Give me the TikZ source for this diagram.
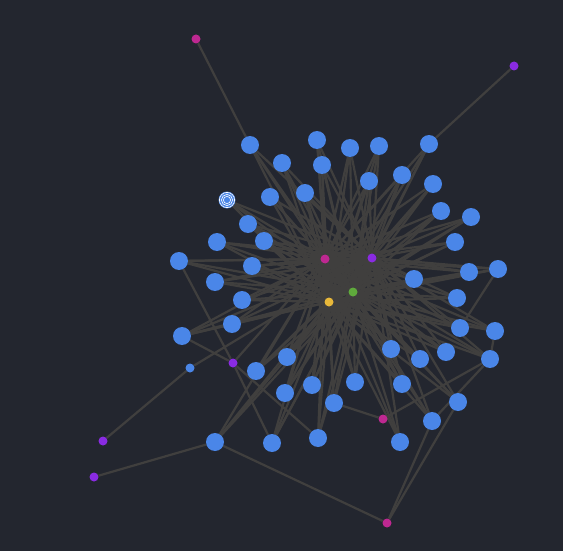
\documentclass[tikz,border=0pt]{standalone}
\definecolor{bg}{RGB}{35,38,47}
\definecolor{nblue}{RGB}{74,134,232}
\definecolor{nmag}{RGB}{190,40,145}
\definecolor{npur}{RGB}{138,43,226}
\definecolor{ngreen}{RGB}{95,170,60}
\definecolor{nyel}{RGB}{232,184,58}
\definecolor{edge}{RGB}{64,63,62}
\pgfdeclarelayer{bgfill}
\pgfdeclarelayer{edges}
\pgfsetlayers{bgfill,edges,main}
\tikzset{
  bnode/.style={circle,fill=nblue,inner sep=0pt,minimum size=18pt},
  snode/.style={circle,fill=#1,inner sep=0pt,minimum size=9pt},
  lnk/.style={draw=edge,line width=2.2pt},
}
\begin{document}
\begin{tikzpicture}[x=1pt,y=-1pt]
\begin{pgfonlayer}{bgfill}
\fill[bg] (0,0) rectangle (563,551);
\end{pgfonlayer}
\useasboundingbox (0,0) rectangle (563,551);
% centre nodes
\node[snode=nmag] (cm) at (325,259) {};
\node[snode=npur] (cp) at (372,258) {};
\node[snode=ngreen] (cg) at (353,292) {};
\node[snode=nyel] (cy) at (329,302) {};
% blue nodes
\foreach \n/\x/\y in {1/250/145,2/317/140,3/350/148,4/379/146,5/429/144,6/282/163,7/322/165,8/369/181,9/402/175,10/433/184,11/270/197,12/305/193,13/441/211,14/471/217,15/248/224,16/264/241,17/217/242,18/455/242,19/179/261,20/252/266,21/215/282,22/414/279,23/469/272,24/498/269,25/242/300,26/457/298,27/232/324,28/182/336,29/460/328,30/495/331,31/391/349,32/420/359,33/446/352,34/490/359,35/287/357,36/256/371,37/312/385,38/355/382,39/402/384,40/285/393,41/334/403,42/458/402,43/432/421,44/215/442,45/272/443,46/318/438,47/400/442}
  \node[bnode] (b\n) at (\x,\y) {};
% concentric node
\node[circle,fill=nblue,inner sep=0pt,minimum size=17pt] (ring) at (227,200) {};
\draw[white,line width=0.6pt] (ring.center) circle (7.6) (ring.center) circle (5.6) (ring.center) circle (3.6);
% small outer nodes
\node[bnode,minimum size=9pt] (sb) at (190,368) {};
\node[snode=nmag] (m1) at (196,39) {};
\node[snode=npur] (p1) at (514,66) {};
\node[snode=npur] (p2) at (103,441) {};
\node[snode=npur] (p3) at (94,477) {};
\node[snode=nmag] (m2) at (387,523) {};
\node[snode=nmag] (m3) at (383,419) {};
\node[snode=npur] (p4) at (233,363) {};
\begin{pgfonlayer}{edges}
\foreach \n in {1,...,47}
  \foreach \c in {cm,cp,cg,cy}
    \draw[lnk] (b\n) -- (\c);
\foreach \c in {cm,cp,cg,cy} \draw[lnk] (ring) -- (\c);
\draw[lnk] (m1) -- (b1);
\draw[lnk] (p1) -- (b5);
\draw[lnk] (p2) -- (sb);
\draw[lnk] (sb) -- (cp);
\draw[lnk] (p3) -- (b44);
\draw[lnk] (b44) -- (m2);
\draw[lnk] (m2) -- (b43);
\draw[lnk] (m2) -- (b42);
\draw[lnk] (m3) -- (b41);
\draw[lnk] (m3) -- (b34);
\draw[lnk] (p4) -- (b28);
\draw[lnk] (p4) -- (b45);
\draw[lnk] (p4) -- (b46);
\draw[lnk] (p4) -- (b19);
\draw[lnk] (p4) -- (cm);
\draw[lnk] (b24) -- (b29);
\draw[lnk] (b30) -- (b34);
\draw[lnk] (b34) -- (b43);
\draw[lnk] (b28) -- (b27);
\end{pgfonlayer}
\end{tikzpicture}
\end{document}
